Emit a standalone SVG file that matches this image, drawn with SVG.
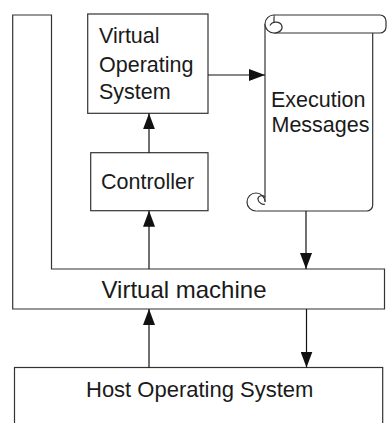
<svg xmlns="http://www.w3.org/2000/svg" width="387" height="423" viewBox="0 0 387 423">
  <style>
    .shape { fill: #ffffff; stroke: #333333; stroke-width: 1.2; }
    .line { fill: none; stroke: #333333; stroke-width: 1.2; }
    .conn { fill: none; stroke: #111111; stroke-width: 1.2; marker-end: url(#arrow); }
    .label { font-family: "Liberation Sans", Arial, Helvetica, sans-serif; font-size: 21.5px; fill: #1a1a1a; }
  </style>
  <defs>
    <marker id="arrow" markerUnits="userSpaceOnUse" markerWidth="17" markerHeight="12" refX="16" refY="6" orient="auto">
      <path d="M0,0 L16,6 L0,12 Z" fill="#111111"/>
    </marker>
  </defs>

  <rect width="387" height="423" fill="#ffffff"/>

  <!-- Virtual machine: upright column plus horizontal bar -->
  <g id="virtual-machine">
    <path class="shape" d="M12.7,15 H51.5 V269 H384.5 V309 H12.7 Z"/>
    <text class="label" x="101.5" y="297.5" style="font-size:24px">Virtual machine</text>
  </g>

  <!-- Virtual Operating System -->
  <g id="virtual-os">
    <rect class="shape" x="87.7" y="14" width="120.3" height="99.3"/>
    <text class="label" x="99" y="43.3">Virtual</text>
    <text class="label" x="99" y="71.5">Operating</text>
    <text class="label" x="99" y="98.5">System</text>
  </g>

  <!-- Controller -->
  <g id="controller">
    <rect class="shape" x="90.7" y="152.7" width="117.3" height="58"/>
    <text class="label" x="101" y="189.3">Controller</text>
  </g>

  <!-- Execution Messages scroll -->
  <g id="execution-messages">
    <!-- page body -->
    <path class="shape" d="M265,24 V202 H256 V211 H366.7 A6,6 0 0 0 372.7,205 V33 H274 Z" style="stroke:none"/>
    <path class="line" d="M265,24 V202"/>
    <path class="line" d="M372.7,33 V205 A6,6 0 0 1 366.7,211 H256"/>
    <!-- top roll -->
    <path class="shape" d="M274,15 H380 A6,6 0 0 1 386,21 V27 A6,6 0 0 1 380,33 H274 Z"/>
    <path class="shape" d="M274,15 A9,9 0 0 0 274,33 C280,33 283.5,29 281.5,25 C279.5,21 272,21 270,25.5"/>
    <!-- bottom curl -->
    <path class="shape" d="M256,211 A9,9 0 1 1 265,202"/>
    <path class="line" d="M265,197 C262,194.5 257.5,196 258,199.5 C258.5,203 263,205 265,204"/>
    <text class="label" x="271" y="106.7">Execution</text>
    <text class="label" x="271.5" y="131.5">Messages</text>
  </g>

  <!-- Host Operating System -->
  <g id="host-os">
    <rect class="shape" x="14.5" y="367.5" width="368.2" height="70"/>
    <text class="label" x="86" y="396.7" style="font-size:22px">Host Operating System</text>
  </g>

  <!-- Connectors -->
  <g id="connectors">
    <line class="conn" x1="208" y1="75" x2="265" y2="75"/>
    <line class="conn" x1="149" y1="152.7" x2="149" y2="113.3"/>
    <line class="conn" x1="149" y1="269" x2="149" y2="210.7"/>
    <line class="conn" x1="306" y1="211" x2="306" y2="269"/>
    <line class="conn" x1="149" y1="367.5" x2="149" y2="309"/>
    <line class="conn" x1="306.5" y1="309" x2="306.5" y2="367.5"/>
  </g>
</svg>
